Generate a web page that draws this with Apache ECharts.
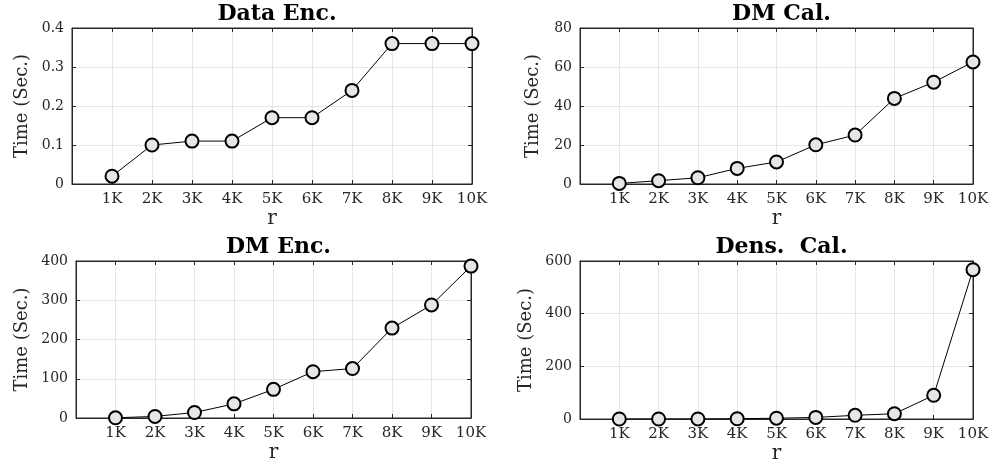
<!DOCTYPE html>
<html>
<head>
<meta charset="utf-8">
<script src="https://cdn.jsdelivr.net/npm/echarts@6/dist/echarts.min.js"></script>
<style>html,body{margin:0;padding:0;background:#fff}#c{width:992px;height:467px}</style>
</head>
<body>
<div id="c"></div>
<script>
var categories = [1, 2, 3, 4, 5, 6, 7, 8, 9, 10];
var tickLabels = ['1K', '2K', '3K', '4K', '5K', '6K', '7K', '8K', '9K', '10K'];
var titles = ['Data Enc.', 'DM Cal.', 'DM Enc.', 'Dens.  Cal.'];
var dataEnc = [0.02, 0.10, 0.11, 0.11, 0.17, 0.17, 0.24, 0.36, 0.36, 0.36];
var dmCal = [0.3, 1.7, 3.2, 8.0, 11.3, 20.1, 25.1, 43.9, 52.2, 62.6];
var dmEnc = [0.5, 4, 14, 36, 73, 118, 126, 229, 288, 387];
var densCal = [0, 0, 0.2, 1, 3, 6, 14, 20, 90, 567];
var yMax = [0.4, 80, 400, 600];
var yInterval = [0.1, 20, 100, 200];

var seriesValues = [dataEnc, dmCal, dmEnc, densCal];
var grids = [
  {left: 72, top: 28, width: 400, height: 156},
  {left: 580, top: 28, width: 393, height: 156},
  {left: 76, top: 261, width: 395, height: 157},
  {left: 580, top: 261, width: 393, height: 158}
];
var yNameGap = [41, 38, 45, 45];
var txt = '#262626';
var font = 'DejaVu Serif';

var option = {
  backgroundColor: '#fff',
  animation: false,
  title: [],
  grid: [],
  xAxis: [],
  yAxis: [],
  series: []
};

grids.forEach(function (g, i) {
  option.grid.push({left: g.left, top: g.top, width: g.width, height: g.height,
    show: true, borderColor: txt, borderWidth: 1, backgroundColor: '#fff'});
  option.title.push({
    text: titles[i], left: g.left + g.width / 2, top: (i < 2 ? -2 : 231), textAlign: 'center',
    textStyle: {fontFamily: font, fontWeight: 'bold', fontSize: 22, color: '#000'}
  });
  option.xAxis.push({
    type: 'value', gridIndex: i, min: 0, max: 10, interval: 1, position: 'bottom',
    name: 'r', nameLocation: 'middle', nameGap: 25,
    nameTextStyle: {fontFamily: font, fontSize: 20, color: txt},
    axisLine: {show: true, onZero: false, lineStyle: {color: txt, width: 1}},
    axisTick: {show: true, inside: true, length: 4, lineStyle: {color: txt}},
    axisLabel: {show: true, margin: 8, fontFamily: font, fontSize: 15, color: txt,
      formatter: function (v) { var k = categories.indexOf(v); return k >= 0 ? tickLabels[k] : ''; }},
    splitLine: {show: true, lineStyle: {color: '#e6e6e6', width: 1}}
  });
  option.xAxis.push({
    type: 'value', gridIndex: i, min: 0, max: 10, interval: 1, position: 'top',
    axisLine: {show: true, onZero: false, lineStyle: {color: txt, width: 1}},
    axisTick: {show: true, inside: true, length: 4, lineStyle: {color: txt}},
    axisLabel: {show: false}, splitLine: {show: false}
  });
  option.yAxis.push({
    type: 'value', gridIndex: i, min: 0, max: yMax[i], interval: yInterval[i], position: 'left',
    name: 'Time (Sec.)', nameLocation: 'middle', nameGap: yNameGap[i],
    nameTextStyle: {fontFamily: font, fontSize: 18, color: txt},
    axisLine: {show: true, onZero: false, lineStyle: {color: txt, width: 1}},
    axisTick: {show: true, inside: true, length: 4, lineStyle: {color: txt}},
    axisLabel: {show: true, margin: 8, fontFamily: font, fontSize: 14, color: txt},
    splitLine: {show: true, lineStyle: {color: '#e6e6e6', width: 1}}
  });
  option.yAxis.push({
    type: 'value', gridIndex: i, min: 0, max: yMax[i], interval: yInterval[i], position: 'right',
    axisLine: {show: true, onZero: false, lineStyle: {color: txt, width: 1}},
    axisTick: {show: true, inside: true, length: 4, lineStyle: {color: txt}},
    axisLabel: {show: false}, splitLine: {show: false}
  });
  option.series.push({
    type: 'line', xAxisIndex: i * 2, yAxisIndex: i * 2,
    data: categories.map(function (c, k) { return [c, seriesValues[i][k]]; }),
    symbol: 'circle', symbolSize: 13, showSymbol: true,
    lineStyle: {color: '#000', width: 1},
    itemStyle: {color: '#e6e6e6', borderColor: '#000', borderWidth: 2},
    z: 5
  });
});

var chart = echarts.init(document.getElementById('c'), null, {renderer: 'canvas'});
chart.setOption(option);
</script>
</body>
</html>
